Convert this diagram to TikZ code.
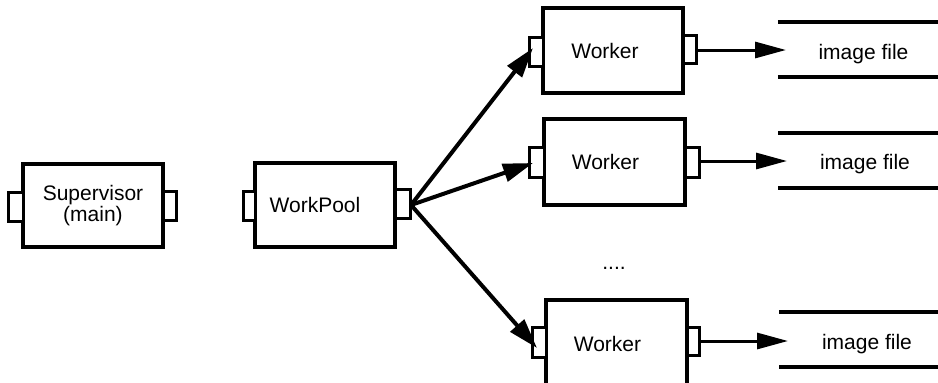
\documentclass[tikz,border=0pt]{standalone}
\usepackage{fontspec}
\setmainfont{Liberation Sans}
\usetikzlibrary{arrows.meta}
\begin{document}
\begin{tikzpicture}[x=1pt,y=-1pt,
  every node/.style={font=\fontsize{21}{19}\selectfont, inner sep=0pt},
  unit/.style={draw, line width=3.5pt, fill=white},
  port/.style={draw, line width=3pt, fill=white},
  filearea/.style={minimum width=160pt, minimum height=55pt},
  flow/.style={line width=3pt, -{Triangle[length=31pt,width=16pt]}},
  fanout/.style={line width=4pt, -{Triangle[length=30pt,width=18pt]}},
  store/.style={line width=3.5pt}]

\fill[white] (0,0) rectangle (938,383);
\useasboundingbox (0,0) rectangle (938,383);

% Supervisor
\node[unit, minimum width=140pt, minimum height=83pt, align=center] (sup) at (93,205.5) {Supervisor\\(main)};
\node[port, minimum width=15pt, minimum height=29pt] (supL) at (15.5,206.5) {};
\node[port, minimum width=13pt, minimum height=29pt] (supR) at (169.5,205.5) {};

% WorkPool
\node[unit, minimum width=140pt, minimum height=84pt] (pool) at (325,205) {WorkPool\kern20pt};
\node[port, minimum width=12pt, minimum height=29pt] (poolL) at (249,205.5) {};
\node[port, minimum width=15pt, minimum height=29pt] (poolR) at (402.5,203.5) {};

% Workers
\node[unit, minimum width=140pt, minimum height=85pt] (w1) at (613,50.5) {Worker\kern16pt};
\node[port, minimum width=14pt, minimum height=29pt] (w1L) at (536,51.5) {};
\node[port, minimum width=13pt, minimum height=28pt] (w1R) at (689.5,49) {};

\node[unit, minimum width=141pt, minimum height=86pt] (w2) at (614.5,162) {Worker\kern18pt};
\node[port, minimum width=15pt, minimum height=30pt] (w2L) at (536.5,162) {};
\node[port, minimum width=14pt, minimum height=30pt] (w2R) at (692,162) {};

\node[unit, minimum width=141pt, minimum height=88pt] (w3) at (616.5,344) {Worker\kern18pt};
\node[port, minimum width=14pt, minimum height=30pt] (w3L) at (539,342) {};
\node[port, minimum width=12pt, minimum height=28pt] (w3R) at (693,341) {};

\node (more) at (614,268) {....};

% Image files
\node[filearea] (f1) at (858,49.5) {};
\node[filearea] (f2) at (858.5,160.5) {};
\node[filearea] (f3) at (859.5,339.5) {};
\foreach \f in {f1,f2,f3}
  \draw[store] (\f.north west) -- (\f.north east) (\f.south west) -- (\f.south east);
\node[anchor=base] (f1t) at (863.5,59) {image file};
\node[anchor=base] (f2t) at (865,169) {image file};
\node[anchor=base] (f3t) at (867,349) {image file};

% Pool fans out to the workers
\coordinate (hub) at (411,205);
\coordinate (a1) at (533,48);
\coordinate (a2) at (533,163);
\coordinate (a3) at (537,348);
\draw[fanout] (hub) -- (a1);
\draw[fanout] (hub) -- (a2);
\draw[fanout] (hub) -- (a3);

% Workers write image files
\coordinate (t1) at (786,50);
\coordinate (t2) at (787,161);
\coordinate (t3) at (788,341);
\draw[flow] (w1R.east |- t1) -- (t1);
\draw[flow] (w2R.east |- t2) -- (t2);
\draw[flow] (w3R.east |- t3) -- (t3);
\end{tikzpicture}
\end{document}
